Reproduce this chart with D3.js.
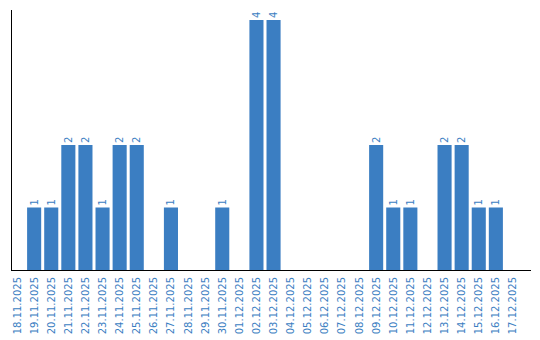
<!DOCTYPE html>
<html><head><meta charset="utf-8">
<script src="https://cdn.jsdelivr.net/npm/d3@7"></script>
<style>body{margin:0;background:#fff}</style>
</head><body>
<svg id="c" width="540" height="340"></svg>
<script>
const dates = ["18.11.2025","19.11.2025","20.11.2025","21.11.2025","22.11.2025","23.11.2025","24.11.2025","25.11.2025","26.11.2025","27.11.2025","28.11.2025","29.11.2025","30.11.2025","01.12.2025","02.12.2025","03.12.2025","04.12.2025","05.12.2025","06.12.2025","07.12.2025","08.12.2025","09.12.2025","10.12.2025","11.12.2025","12.12.2025","13.12.2025","14.12.2025","15.12.2025","16.12.2025","17.12.2025"];
const counts = [0,1,1,2,2,1,2,2,0,1,0,0,1,0,4,4,0,0,0,0,0,2,1,1,0,2,2,1,1,0];

const svg = d3.select("#c");
const color = "#3b7ec2";
const x = d3.scaleBand().domain(dates).range([10, 520]).paddingInner(3/17).paddingOuter(0).align(0);
const y = d3.scaleLinear().domain([0, 4.16]).range([270, 10]);
const data = dates.map((d,i)=>({d, v: counts[i]}));

svg.selectAll("rect.bar").data(data.filter(e=>e.v>0)).join("rect")
  .attr("x", e=>x(e.d)).attr("width", x.bandwidth())
  .attr("y", e=>y(e.v)).attr("height", e=>y(0)-y(e.v))
  .attr("fill", color);

svg.selectAll("text.val").data(data.filter(e=>e.v>0)).join("text")
  .attr("transform", e=>`translate(${x(e.d)+x.bandwidth()/2+3.5},${y(e.v)-2}) rotate(-90)`)
  .attr("font-family","DejaVu Sans").attr("font-size",10).attr("fill",color)
  .text(e=>e.v);

const xa = svg.append("g").attr("transform","translate(0,270)")
  .call(d3.axisBottom(x).tickSize(0).tickPadding(0));
xa.select(".domain").remove();
xa.selectAll("text")
  .attr("font-family","DejaVu Sans").attr("font-size",10).attr("fill",color)
  .attr("text-anchor","end").attr("dy",null).attr("y",0)
  .attr("transform","translate(3.5,7) rotate(-90)");

svg.append("line").attr("x1",11).attr("x2",531).attr("y1",270.5).attr("y2",270.5).attr("stroke","#000");
svg.append("line").attr("x1",11.5).attr("x2",11.5).attr("y1",10).attr("y2",271).attr("stroke","#000");
</script>
</body></html>
